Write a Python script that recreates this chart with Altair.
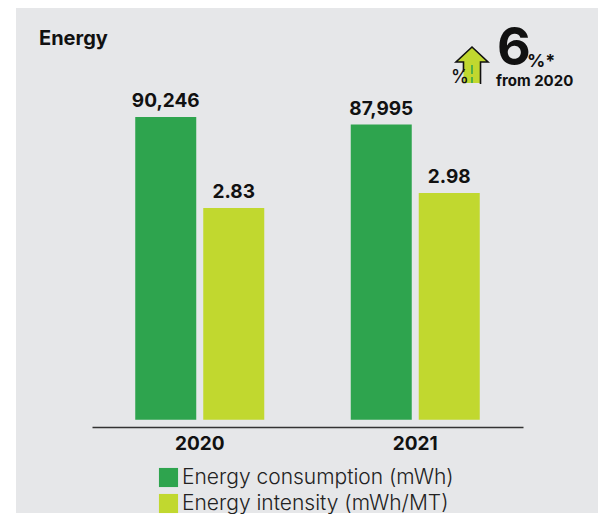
import altair as alt
import pandas as pd

years = ["2020", "2020", "2021", "2021"]
series = ["Energy consumption (mWh)", "Energy intensity (mWh/MT)"] * 2
values = [90246, 2.83, 87995, 2.98]
labels = ["90,246", "2.83", "87,995", "2.98"]
series_names = ["Energy consumption (mWh)", "Energy intensity (mWh/MT)"]
colors = ["#2EA44E", "#C1D82F"]
GREY = "#E6E7E9"
FONT = "Inter"

df = pd.DataFrame({"year": years, "series": series, "value": values, "label": labels})

W, H = 590, 505
BASE = 411.7

x_enc = alt.X("year:N", title=None, scale=alt.Scale(range=[84, 515], paddingInner=0, paddingOuter=0),
              axis=alt.Axis(offset=-86, zindex=1, domainColor="#333333", domainWidth=1.5, ticks=False,
                            labelAngle=0, labelFont=FONT, labelFontWeight="bold", labelFontSize=19,
                            labelColor="#111111", labelPadding=7, grid=False))
off_enc = alt.XOffset("series:N", scale=alt.Scale(domain=series_names, paddingInner=0.103, paddingOuter=0.636))
y_scales = {
    series_names[0]: alt.Scale(domain=[0, 90246], range=[BASE, 109], nice=False, zero=False, clamp=True),
    series_names[1]: alt.Scale(domain=[0.71, 2.98], range=[BASE, 185], nice=False, zero=False, clamp=True),
}

def layer_for(name):
    base = alt.Chart(df).transform_filter(alt.datum.series == name)
    y = alt.Y("value:Q", scale=y_scales[name], axis=None)
    bars = base.mark_bar(size=61).encode(
        x=x_enc, xOffset=off_enc, y=y,
        color=alt.Color("series:N", scale=alt.Scale(domain=series_names, range=colors),
                        legend=alt.Legend(title=None, orient="none", legendX=150, legendY=459,
                                          symbolType="square", symbolSize=365, symbolStrokeWidth=0,
                                          labelFont=FONT, labelFontSize=21, labelFontWeight=300,
                                          labelColor="#222222",
                                          rowPadding=4, labelOffset=3, labelLimit=400)))
    text = base.mark_text(dy=-10, baseline="alphabetic", font=FONT, fontWeight="bold", fontSize=19, color="#111111").encode(
        x=x_enc, xOffset=off_enc, y=y, text="label:N")
    return [bars, text]

panel = alt.Chart(pd.DataFrame({"a": [0]})).mark_rect(color=GREY).encode(
    x=alt.value(8), x2=alt.value(W), y=alt.value(0), y2=alt.value(H))

def note(txt, x, y, size, weight="bold", align="left", color="#111111"):
    return alt.Chart(pd.DataFrame({"t": [txt]})).mark_text(
        font=FONT, fontSize=size, fontWeight=weight, align=align, baseline="alphabetic", color=color
    ).encode(x=alt.value(x), y=alt.value(y), text="t:N")

arrow_pos = {"x": alt.value(464), "y": alt.value(57.5)}
arrow_fill = alt.Chart(pd.DataFrame({"a": [0]})).mark_point(
    shape="M0,-1L0.865,-0.19L0.46,-0.19L0.46,0.95L-0.46,0.95L-0.46,-0.19L-0.865,-0.19Z",
    size=1369, filled=True, color="#C1D82F", strokeWidth=0, opacity=1
).encode(**arrow_pos)
arrow_line = alt.Chart(pd.DataFrame({"a": [0]})).mark_point(
    shape="M-0.46,0.35L-0.46,-0.19L-0.865,-0.19L0,-1L0.865,-0.19L0.46,-0.19L0.46,1",
    size=1369, filled=False, stroke="#111111", strokeWidth=1.6, opacity=1
).encode(**arrow_pos)
arrow_dash = alt.Chart(pd.DataFrame({"a": [0]})).mark_rule(
    color="#2EA44E", strokeWidth=1.5, strokeDash=[9, 3]
).encode(x=alt.value(464), y=alt.value(57), y2=alt.value(75))

chart = alt.layer(
    panel,
    *layer_for(series_names[0]),
    *layer_for(series_names[1]),
    note("Energy", 31, 37, 20),
    arrow_fill, arrow_line, arrow_dash,
    note("%", 443, 75, 18, 500),
    note("6", 489, 57, 52),
    note("%*", 519, 59, 18),
    note("from 2020", 488, 78, 15),
).resolve_scale(y="independent").properties(
    width=W, height=H, padding=0, background="white"
).configure_view(stroke=None).configure_axis(domainCap="butt")

chart.save("out.html", embed_options={"renderer": "svg", "actions": False})
